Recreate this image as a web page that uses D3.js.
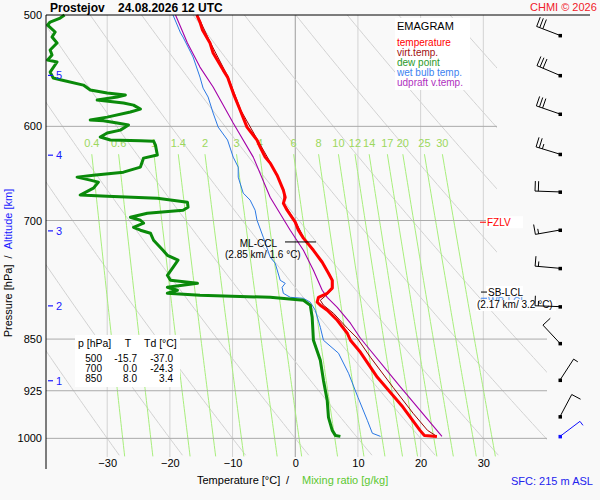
<!DOCTYPE html>
<html>
<head>
<meta charset="utf-8">
<script src="https://cdn.jsdelivr.net/npm/d3@7"></script>
<style>
  body { margin: 0; background: #f9f9f9; }
  svg { display: block; font-family: "Liberation Sans", Arial, sans-serif; }
</style>
</head>
<body>
<div id="chart"></div>
<script>
// ---- data ----
const pLevels = [500, 600, 700, 850, 925, 1000];
const tTicks = [-30, -20, -10, 0, 10, 20, 30];
const thetaLines = [-30, -20, -10, 0, 10, 20, 30, 40, 50, 60, 70, 80, 90, 100, 110];
const mixRatios = [0.4, 0.6, 1, 1.4, 2, 3, 4, 6, 8, 10, 12, 14, 17, 20, 25, 30];
const altKm = [1, 2, 3, 4, 5];
const altP = [910, 805, 712, 629, 552];

const tempP = [500, 505.8, 512.4, 523.5, 532.1, 547.2, 553.5, 568.2, 584.2, 600.7, 613.6, 620.7, 631.0, 637.2, 649.9, 666.0, 673.9, 680.6, 688.3, 701.9, 711.2, 720.5, 735.0, 749.5, 763.1, 772.0, 782.0, 788.6, 793.8, 800.2, 804.1, 810.8, 824.2, 841.9, 851.6, 868.6, 904.9, 950.4, 987.0, 995.2, 996.8];
const tempT = [-15.7, -15.2, -14.8, -13.6, -13.1, -11.5, -10.8, -9.9, -8.8, -7.7, -6.1, -5.6, -4.8, -4.0, -2.9, -1.9, -1.6, -1.9, -1.3, 0.0, 0.5, 1.3, 2.9, 4.3, 5.3, 5.9, 5.9, 5.1, 3.7, 3.5, 4.0, 5.1, 6.7, 8.3, 8.8, 10.4, 13.1, 17.2, 19.9, 20.6, 22.6];

const virtP = [500, 523.5, 553.5, 584.2, 613.6, 637.2, 666.0, 680.6, 701.9, 720.5, 735.0, 749.5, 772.0, 782.0, 788.6, 797.7, 804.1, 814.8, 835.0, 848.8, 875.7, 919.8, 959.8, 987.0, 996.8];
const virtT = [-15.6, -13.5, -10.7, -8.7, -6.0, -3.9, -1.8, -1.8, 0.1, 1.4, 3.0, 4.4, 6.0, 6.0, 5.3, 4.0, 4.5, 6.1, 8.3, 9.9, 12.0, 15.6, 18.8, 21.1, 22.6];

const dewP = [500, 502.5, 505.8, 508.3, 514.1, 518.4, 523.5, 529.5, 533.9, 538.3, 540.0, 549.0, 554.4, 556.2, 560.8, 565.4, 568.2, 570.0, 571.9, 574.7, 577.5, 579.5, 583.3, 586.1, 591.0, 593.8, 594.5, 596.8, 598.7, 603.7, 606.6, 610.6, 613.6, 614.2, 614.7, 618.7, 628.9, 632.0, 641.4, 646.7, 649.9, 652.0, 655.2, 657.4, 663.9, 671.5, 672.7, 675.0, 679.4, 685.0, 688.3, 691.7, 696.3, 699.7, 703.1, 707.8, 711.2, 714.7, 723.0, 734.9, 741.0, 747.0, 755.7, 765.7, 772.0, 775.8, 780.9, 784.7, 788.6, 791.2, 793.8, 797.7, 804.1, 820.1, 851.6, 880.1, 909.4, 939.7, 966.3, 987.0, 995.2, 996.8];
const dewT = [-36.8, -37.5, -39.1, -39.5, -38.3, -38.8, -38.0, -39.1, -38.8, -39.5, -38.0, -39.1, -38.6, -37.3, -33.8, -32.7, -30.0, -27.1, -28.4, -31.6, -27.4, -25.8, -24.7, -26.3, -30.0, -32.7, -30.6, -28.4, -26.6, -27.9, -30.0, -31.1, -29.5, -24.7, -22.6, -22.3, -22.0, -24.2, -24.7, -27.4, -32.2, -34.8, -32.7, -31.4, -32.2, -34.3, -30.0, -22.0, -17.2, -17.1, -17.9, -23.6, -26.3, -24.7, -24.2, -25.8, -24.7, -23.1, -22.6, -21.1, -20.4, -18.7, -19.5, -20.4, -19.9, -15.6, -20.4, -18.8, -20.4, -15.2, -4.0, 1.3, 2.4, 2.7, 2.9, 4.0, 4.5, 5.1, 5.3, 5.9, 6.4, 7.2];

const wbP = [500, 514.9, 518.4, 535.6, 553.5, 563.6, 571.9, 587.1, 600.7, 613.6, 631.0, 641.4, 652.0, 669.3, 677.0, 688.3, 699.7, 719.4, 743.3, 750.7, 772.0, 775.8, 780.9, 788.6, 793.8, 795.1, 800.2, 810.8, 833.7, 851.6, 869.9, 898.9, 935.0, 970.9, 991.7, 996.8];
const wbT = [-19.5, -18.3, -17.9, -16.3, -15.2, -14.7, -13.9, -13.1, -12.3, -10.8, -9.9, -9.1, -9.1, -8.3, -7.2, -6.4, -6.1, -5.1, -4.0, -3.2, -2.4, -1.6, -2.1, -1.9, -0.8, 1.3, 2.4, 3.2, 4.0, 4.5, 6.9, 8.5, 10.0, 11.5, 12.3, 13.6];

const parP = [500, 523.5, 544.5, 562.6, 596.8, 631.0, 673.9, 711.2, 735.0, 759.3, 784.7, 793.8, 806.9, 828.2, 848.8, 918.3, 996.8];
const parT = [-19.1, -17.2, -15.2, -13.1, -9.9, -6.7, -4.0, -0.8, 1.3, 2.9, 4.3, 5.1, 6.7, 8.8, 10.4, 16.7, 23.4];

const barbP = [517, 552, 588, 628, 668, 711, 757, 806, 856, 909, 965];
const barbDir = [291, 293, 289, 287, 272, 260, 275, 272, 317, 33, 28];
const barbKt = [30, 30, 30, 25, 20, 15, 15, 15, 10, 5, 10];
const sfcP = 996.8, sfcDir = 53, sfcKt = 5;

const tableP = [500, 700, 850];
const tableT = [-15.7, 0.0, 8.0];
const tableTd = [-37.0, -24.3, 3.4];

const fzlvP = 702, cclP = 725, sbLclP = 787, wbLclP = 795;

// ---- drawing ----
const W = 600, H = 500;
const font = '"Liberation Sans", Arial, sans-serif';

const svg = d3.select("#chart").append("svg")
  .attr("width", W).attr("height", H)
  .style("background", "#f9f9f9");

const x = d3.scaleLinear().domain([-40, 40]).range([44.5, 546]);
const y = d3.scaleLog().domain([500, 1031]).range([15, 457]);

const line = d3.line().x(d => x(d[1])).y(d => y(d[0]));
const zip = (ps, ts) => ps.map((p, i) => [p, ts[i]]);

svg.append("clipPath").attr("id", "plot")
  .append("polygon").attr("points", "46,15 497,15 497,315 547,315 547,457 46,457");

const grid = svg.append("g").attr("clip-path", "url(#plot)");

// isotherms
grid.selectAll(".iso").data(tTicks).enter().append("line")
  .attr("x1", d => x(d)).attr("x2", d => x(d))
  .attr("y1", y(500)).attr("y2", y(1031))
  .attr("stroke", d => d === 0 ? "#9c9c9c" : "#d3d3d3").attr("stroke-width", 1);

// dry adiabats
const pSteps = d3.range(500, 1032, 4);
grid.selectAll(".dry").data(thetaLines).enter().append("path")
  .attr("d", th => line(pSteps.map(p => [p, (th + 273.15) * Math.pow(p / 1000, 0.286) - 273.15])))
  .attr("fill", "none").attr("stroke", "#d2d2d2").attr("stroke-width", 1);

// mixing ratio lines
const tdFromW = (w, p) => {
  const e = w * p / (622 + w);
  const l = Math.log(e / 6.112);
  return 243.5 * l / (17.67 - l);
};
const pMix = d3.range(628, 1032, 6);
grid.selectAll(".mix").data(mixRatios).enter().append("path")
  .attr("d", w => line(pMix.map(p => [p, tdFromW(w, p)])))
  .attr("fill", "none").attr("stroke", "#a8ee7c").attr("stroke-width", 1);

svg.selectAll(".mixlab").data(mixRatios).enter().append("text")
  .attr("x", w => x(tdFromW(w, 628))).attr("y", 147)
  .attr("text-anchor", "middle").attr("font-size", 11)
  .attr("fill", "#9cd85c").text(w => String(w));

// pressure lines
svg.selectAll(".pl").data(pLevels.slice(1)).enter().append("line")
  .attr("x1", 46).attr("x2", d => d >= 800 ? 547 : 497)
  .attr("y1", d => y(d)).attr("y2", d => y(d))
  .attr("stroke", "#ababab").attr("stroke-width", 1);

// sounding curves
const curve = (data, col, w) => svg.append("path").datum(data).attr("d", line)
  .attr("fill", "none").attr("stroke", col).attr("stroke-width", w)
  .attr("stroke-linejoin", "round");
curve(zip(wbP, wbT), "#2a78e4", 1);
curve(zip(parP, parT), "#a400a8", 1.1);
curve(zip(virtP, virtT), "#980000", 1);
curve(zip(dewP, dewT), "#0a8a0a", 3);
curve(zip(tempP, tempT), "#ff0000", 3);

// frame
svg.append("line").attr("x1", 46).attr("x2", 590).attr("y1", 15).attr("y2", 15).attr("stroke", "#000");
svg.append("line").attr("x1", 46).attr("x2", 46).attr("y1", 15).attr("y2", 469).attr("stroke", "#000");

// axes
const yAxis = svg.append("g").attr("transform", "translate(46,0)")
  .call(d3.axisLeft(y).tickValues(pLevels).tickFormat(d3.format("d")).tickSize(0).tickPadding(4));
yAxis.select(".domain").remove();
yAxis.selectAll("text").attr("font-size", 11).attr("font-family", font).attr("fill", "#000");

const xAxis = svg.append("g").attr("transform", "translate(0,457)")
  .call(d3.axisBottom(x).tickValues(tTicks).tickSize(0).tickPadding(2));
xAxis.select(".domain").remove();
xAxis.selectAll("text").attr("font-size", 11).attr("font-family", font).attr("fill", "#000");

// altitude marks
svg.selectAll(".altt").data(altP).enter().append("line")
  .attr("x1", 48).attr("x2", 53).attr("y1", d => y(d)).attr("y2", d => y(d))
  .attr("stroke", "#1a1aff").attr("stroke-width", 1.2);
svg.selectAll(".altl").data(altKm).enter().append("text")
  .attr("x", 56).attr("y", (d, i) => y(altP[i]) + 4)
  .attr("font-size", 11).attr("fill", "#1a1aff").text(d => d);

// axis titles
const yt = svg.append("text").attr("transform", "translate(12,263) rotate(-90)")
  .attr("text-anchor", "middle").attr("font-size", 11);
yt.append("tspan").attr("fill", "#000").text("Pressure [hPa]\u00a0\u00a0/\u00a0\u00a0");
yt.append("tspan").attr("fill", "#1a1aff").text("Altitude [km]");

svg.append("text").attr("x", 197).attr("y", 484).attr("font-size", 11).attr("fill", "#000").text("Temperature [°C]");
svg.append("text").attr("x", 286).attr("y", 484).attr("font-size", 11).attr("fill", "#000").text("/");
svg.append("text").attr("x", 302).attr("y", 484).attr("font-size", 11).attr("fill", "#5cc832").text("Mixing ratio [g/kg]");
svg.append("text").attr("x", 511).attr("y", 485).attr("font-size", 11).attr("fill", "#2323ee").text("SFC: 215 m ASL");

// title
svg.append("text").attr("x", 50).attr("y", 12).attr("font-size", 12).attr("font-weight", "bold")
  .attr("fill", "#000").text("Prostejov\u00a0\u00a0\u00a0\u00a024.08.2026 12 UTC");
svg.append("text").attr("x", 530).attr("y", 11).attr("font-size", 11).attr("fill", "#f0202a").text("CHMI © 2026");

// legend
svg.append("rect").attr("x", 395).attr("y", 18).attr("width", 75).attr("height", 72).attr("fill", "#fff");
svg.append("text").attr("x", 397).attr("y", 30).attr("font-size", 11).attr("fill", "#000").text("EMAGRAM");
const legNames = ["temperature", "virt.temp.", "dew point", "wet bulb temp.", "udpraft v.temp."];
const legCols = ["#ff0000", "#a01010", "#2a9a2a", "#3c82f0", "#b030c0"];
svg.selectAll(".leg").data(legNames).enter().append("text")
  .attr("x", 397).attr("y", (d, i) => 46 + i * 9.9)
  .attr("font-size", 10).attr("fill", (d, i) => legCols[i]).text(d => d);

// table
svg.append("rect").attr("x", 75).attr("y", 335).attr("width", 105).attr("height", 52).attr("fill", "#fff");
svg.append("text").attr("x", 78).attr("y", 347).attr("font-size", 10.5).text("p [hPa]");
svg.append("text").attr("x", 128).attr("y", 347).attr("font-size", 10.5).attr("text-anchor", "middle").text("T");
svg.append("text").attr("x", 144).attr("y", 347).attr("font-size", 10.5).text("Td [°C]");
tableP.forEach((p, i) => {
  const ty = 362 + i * 10;
  svg.append("text").attr("x", 102).attr("y", ty).attr("font-size", 10).attr("text-anchor", "end").text(p);
  svg.append("text").attr("x", 137).attr("y", ty).attr("font-size", 10).attr("text-anchor", "end").text(tableT[i].toFixed(1));
  svg.append("text").attr("x", 173).attr("y", ty).attr("font-size", 10).attr("text-anchor", "end").text(tableTd[i].toFixed(1));
});

// ML-CCL
svg.append("line").attr("x1", 285).attr("x2", 316).attr("y1", y(cclP)).attr("y2", y(cclP)).attr("stroke", "#000");
svg.append("text").attr("x", 277).attr("y", y(cclP) + 5).attr("font-size", 10).attr("text-anchor", "end").text("ML-CCL");
svg.append("text").attr("x", 225).attr("y", y(cclP) + 16).attr("font-size", 10).text("(2.85 km/ 1.6 °C)");

// FZLV
svg.append("rect").attr("x", 486).attr("y", y(fzlvP) - 6).attr("width", 37).attr("height", 12).attr("fill", "#fff");
svg.append("line").attr("x1", 480).attr("x2", 486).attr("y1", y(fzlvP)).attr("y2", y(fzlvP)).attr("stroke", "#ff0000");
svg.append("text").attr("x", 487).attr("y", y(fzlvP) + 4).attr("font-size", 10).attr("fill", "#ff0000").text("FZLV");

// LCLs
svg.append("line").attr("x1", 481).attr("x2", 487).attr("y1", y(wbLclP)).attr("y2", y(wbLclP)).attr("stroke", "#3c82f0");
svg.append("text").attr("x", 488).attr("y", y(wbLclP) + 7).attr("font-size", 10).attr("fill", "#5a9af0").text("WB-LCL");
svg.append("rect").attr("x", 486).attr("y", y(sbLclP) - 6).attr("width", 37).attr("height", 10).attr("fill", "#fff");
svg.append("line").attr("x1", 481).attr("x2", 487).attr("y1", y(sbLclP)).attr("y2", y(sbLclP)).attr("stroke", "#000");
svg.append("text").attr("x", 488).attr("y", y(sbLclP) + 4).attr("font-size", 10).text("SB-LCL");
svg.append("rect").attr("x", 476).attr("y", y(sbLclP) + 8).attr("width", 80).attr("height", 11).attr("fill", "#fff");
svg.append("text").attr("x", 477).attr("y", y(sbLclP) + 16).attr("font-size", 10).text("(2.17 km/ 3.2 °C)");

// wind barbs
function barb(p, dir, kt, col) {
  const cx = 560, cy = y(p);
  const r = dir * Math.PI / 180;
  const u = [Math.sin(r), -Math.cos(r)];
  const f = [-u[1], u[0]];
  const L = 25;
  const tip = [cx + u[0] * L, cy + u[1] * L];
  const g = svg.append("g").attr("stroke", col).attr("stroke-width", 1);
  g.append("line").attr("x1", cx).attr("y1", cy).attr("x2", tip[0]).attr("y2", tip[1]);
  const feather = (d, len) => {
    const b = [tip[0] - u[0] * d, tip[1] - u[1] * d];
    g.append("line").attr("x1", b[0]).attr("y1", b[1])
      .attr("x2", b[0] + f[0] * len).attr("y2", b[1] + f[1] * len);
  };
  let s = kt, pos = 0;
  while (s >= 10) { feather(pos, 10); pos += 3.3; s -= 10; }
  if (s >= 5) feather(pos, 5);
  svg.append("rect").attr("x", cx - 1.5).attr("y", cy - 1.5).attr("width", 3.5).attr("height", 3.5).attr("fill", col);
}
barbP.forEach((p, i) => barb(p, barbDir[i], barbKt[i], "#000"));
barb(sfcP, sfcDir, sfcKt, "#1010ff");
</script>
</body>
</html>
